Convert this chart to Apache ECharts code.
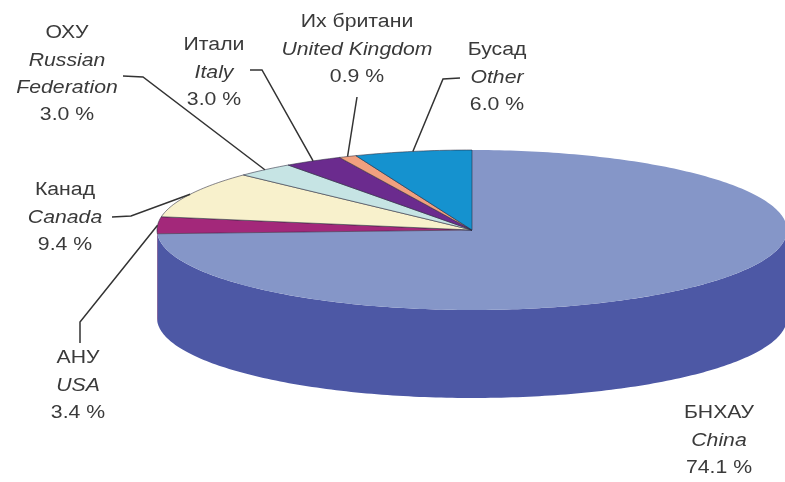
<!DOCTYPE html>
<html>
<head>
<meta charset="utf-8">
<script src="https://cdn.jsdelivr.net/npm/echarts@6/dist/echarts.min.js"></script>
<style>
  html, body { margin: 0; padding: 0; background: #ffffff; }
  #chart { width: 785px; height: 482px; }
</style>
</head>
<body>
<div id="chart"></div>
<script>
// Category names (Mongolian / English) and their shares in percent
const namesMn = ['БНХАУ', 'АНУ', 'Канад', 'ОХУ', 'Итали', 'Их британи', 'Бусад'];
const namesEn = ['China', 'USA', 'Canada', 'Russian\nFederation', 'Italy', 'United Kingdom', 'Other'];
const shares = [74.1, 3.4, 9.4, 3.0, 3.0, 0.9, 6.0];

// Slice colours: top face and side wall
const topColors = ['#8596c8', '#a3287a', '#f8f1cc', '#c6e4e4', '#6b2b8e', '#f1a07f', '#1592cf'];
const sideColors = ['#4d58a5', '#7a1d5b', '#cfc79e', '#9cbcbc', '#4d1e68', '#c77a5c', '#0e6c9c'];

// Label placement: [centre x, first line y]; leader line bend/end points
const labelPos = [[719, 413], [78, 358], [65, 190], [67, 33], [214, 45], [357, 22], [497, 50]];
const leaders = [
  null,
  [[80, 322], [80, 343]],
  [[131, 216], [112, 217]],
  [[143, 77], [123, 76]],
  [[262, 70], [250, 70]],
  [[357, 97]],
  [[443, 79], [460, 78]]
];

// Ellipse geometry of the pie disc
const CX = 472, CY = 230, RX = 315, RY = 80, DEPTH = 88;
const LINE_H = 27.5;

const total = shares.reduce((a, b) => a + b, 0);

function rim(theta, dy) {
  return [CX + RX * Math.sin(theta), CY - RY * Math.cos(theta) + (dy || 0)];
}
function arc(a0, a1, dy) {
  const pts = [];
  const n = Math.max(2, Math.ceil((a1 - a0) / (Math.PI / 180)));
  for (let k = 0; k <= n; k++) pts.push(rim(a0 + (a1 - a0) * k / n, dy));
  return pts;
}

function renderItem(params, api) {
  const i = params.dataIndex;
  const v = api.value(0);
  let before = 0;
  for (let k = 0; k < i; k++) before += shares[k];
  const a0 = before / total * Math.PI * 2;
  const a1 = (before + v) / total * Math.PI * 2;
  const children = [];

  // visible front wall
  const s = Math.max(a0, Math.PI / 2), e = Math.min(a1, Math.PI * 1.5);
  if (s < e) {
    const pts = arc(s, e, 0).concat(arc(s, e, DEPTH).reverse());
    children.push({
      type: 'polygon',
      shape: { points: pts },
      style: { fill: sideColors[i] }
    });
  }

  // top face
  children.push({
    type: 'polygon',
    shape: { points: [[CX, CY]].concat(arc(a0, a1, 0)) },
    style: {
      fill: topColors[i],
      stroke: i === 0 ? null : 'rgba(40,40,60,0.7)',
      lineWidth: 0.8
    }
  });

  // leader line
  if (leaders[i]) {
    const mid = (a0 + a1) / 2;
    children.push({
      type: 'polyline',
      shape: { points: [rim(mid, 0)].concat(leaders[i]) },
      style: { stroke: '#333333', lineWidth: 1.5, fill: null }
    });
  }

  // three-part label: Mongolian name, English name (italic), percent
  const lines = [{ t: namesMn[i], it: false }];
  namesEn[i].split('\n').forEach(t => lines.push({ t: t, it: true }));
  lines.push({ t: v.toFixed(1) + ' %', it: false });
  lines.forEach((ln, k) => {
    children.push({
      type: 'text',
      x: labelPos[i][0],
      y: labelPos[i][1] + k * LINE_H,
      scaleX: 1.18,
      style: {
        text: ln.t,
        font: (ln.it ? 'italic ' : '') + '18px "Liberation Sans", Arial, sans-serif',
        fill: '#3a3a3a',
        align: 'center',
        verticalAlign: 'middle'
      }
    });
  });

  return { type: 'group', children: children };
}

const chart = echarts.init(document.getElementById('chart'), null, { renderer: 'canvas' });
chart.setOption({
  backgroundColor: '#ffffff',
  animation: false,
  series: [{
    type: 'custom',
    coordinateSystem: 'none',
    silent: true,
    renderItem: renderItem,
    data: shares.map(v => [v])
  }]
});
</script>
</body>
</html>
